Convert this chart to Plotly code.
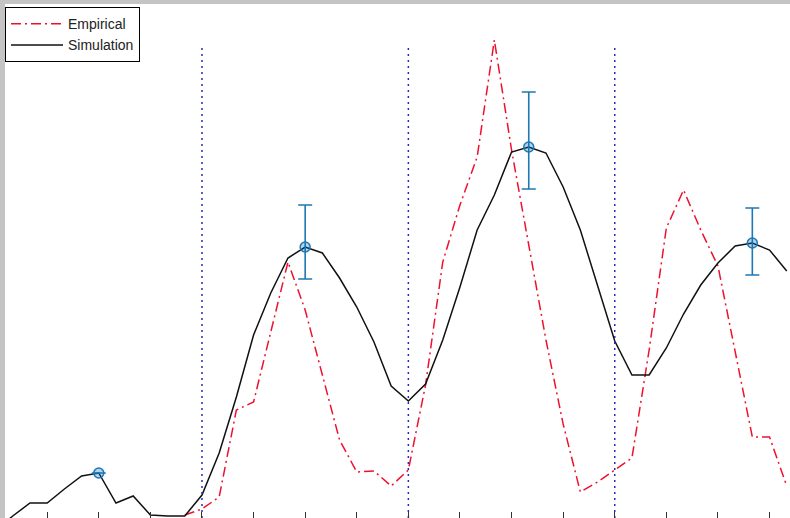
import plotly.graph_objects as go

# ---- data ----
months = list(range(0, 47))

simulation = [-1.2, 0.2, 1.5, 1.5, 2.9, 4.2, 4.5, 1.5, 2.2, 0.3,
              0.2, 0.2, 2.3, 6.5, 12.1, 18.3, 22.5, 26.0, 27.1, 26.5,
              24.0, 21.1, 17.6, 13.2, 11.7, 13.4, 17.8, 23.1, 28.8, 32.3,
              36.6, 37.1, 36.5, 33.1, 28.8, 23.3, 17.7, 14.3, 14.3, 17.0,
              20.4, 23.3, 25.5, 27.2, 27.5, 26.8, 24.7]

empirical = [None] * 11 + [0.3, 0.9, 2.1, 10.8, 11.6, 18.6, 25.6, 20.8, 14.3,
                           7.8, 4.6, 4.7, 3.2, 4.8, 13.3, 25.6, 31.3, 36.1, 47.8,
                           36.8, 27.3, 17.8, 9.4, 2.6, 3.6, 4.8, 6.0, 16.8, 29.0,
                           32.8, 28.8, 25.2, 16.8, 8.1, 8.1, 3.2]

peak_months = [6, 18, 31, 44]
peak_values = [4.5, 27.1, 37.1, 27.5]
err_plus = [None, 4.2, 5.5, 3.5]
err_minus = [None, 3.2, 4.2, 3.2]

year_bounds = [12, 24, 36]
bound_top = 47.2

fig = go.Figure()

fig.add_trace(go.Scatter(
    x=months, y=empirical, mode="lines", name="Empirical",
    line=dict(color="#f0102e", width=1.5, dash="10px,4px,2px,4px"),
    connectgaps=False,
))
fig.add_trace(go.Scatter(
    x=months, y=simulation, mode="lines", name="Simulation",
    line=dict(color="#111111", width=1.5),
))

# vertical dotted year boundaries
bx, by = [], []
for b in year_bounds:
    bx += [b, b, None]
    by += [0, bound_top, None]
fig.add_trace(go.Scatter(
    x=bx, y=by, mode="lines", showlegend=False, hoverinfo="skip",
    line=dict(color="#2a2ab8", width=1.5, dash="2px,4px"),
))

fig.add_trace(go.Scatter(
    x=peak_months, y=peak_values, mode="markers", showlegend=False,
    marker=dict(symbol="circle", size=10, color="rgba(0,114,189,0.3)",
                line=dict(color="#1f77b4", width=1.5)),
    error_y=dict(type="data", symmetric=False, array=err_plus,
                 arrayminus=err_minus, color="#1f77b4", thickness=1.6, width=7),
))

fig.update_layout(
    width=790, height=518,
    margin=dict(l=5, r=0, t=4, b=0),
    paper_bgcolor="#c4c4c4",
    plot_bgcolor="#ffffff",
    font=dict(family="Liberation Sans, Arial, sans-serif", size=14, color="#000000"),
    xaxis=dict(range=[0.547, 46.19], tick0=0, dtick=3, ticks="inside",
               ticklen=6, tickcolor="#333333", showticklabels=False,
               showgrid=False, zeroline=False, showline=False),
    yaxis=dict(range=[0, 51.4], showticklabels=False, ticks="",
               showgrid=False, zeroline=False, showline=False),
    legend=dict(x=0, y=0.994, xanchor="left", yanchor="top",
                bgcolor="#ffffff", bordercolor="#000000", borderwidth=1,
                font=dict(size=14, color="#222222"),
                itemwidth=52, tracegroupgap=0),
    showlegend=True,
)

fig.write_html("out.html",
               config={"displayModeBar": False},
               post_script="document.body.style.margin='0';"
                           "document.body.style.overflow='hidden';")
